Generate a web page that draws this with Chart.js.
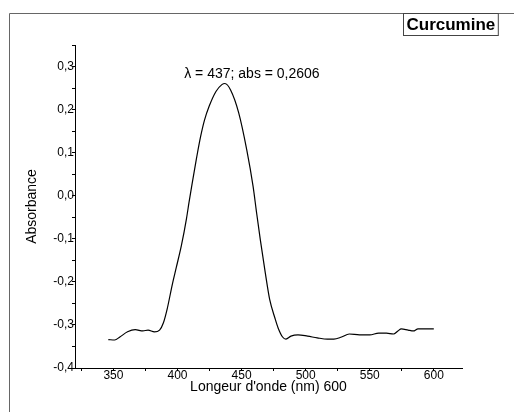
<!DOCTYPE html>
<html lang="fr">
<head>
<meta charset="utf-8">
<title>Curcumine</title>
<script src="https://cdn.jsdelivr.net/npm/chart.js@4.4.1/dist/chart.umd.min.js"></script>
<style>
    html, body { margin: 0; padding: 0; background: #fff; }
    #wrap { width: 514px; height: 412px; }
</style>
</head>
<body>
<div id="wrap"><canvas id="spectre" width="514" height="412"></canvas></div>
<script>
// Spectre UV-visible de la curcumine
const wavelengths = [
    346, 351, 355, 361, 367, 373, 377, 382, 386, 389, 392, 396, 399, 403, 407, 409,
    411.5, 415, 418, 421, 424.6, 430, 434.6, 437, 441.5, 447.7, 454, 459, 461.5, 464.6,
    468.5, 472, 476, 478.5, 482, 484.6, 488.5, 494, 501.5, 509, 517, 522, 528, 534,
    542, 550, 557, 563, 568.5, 572, 574.6, 580, 584, 587.7, 600
];
const absorbance = [
    -0.334, -0.335, -0.328, -0.316, -0.311, -0.314, -0.312, -0.316, -0.312, -0.295, -0.262, -0.205, -0.167, -0.116, -0.053, -0.015,
    0.030, 0.090, 0.137, 0.175, 0.207, 0.242, 0.258, 0.2606, 0.245, 0.193, 0.107, 0.021, -0.035, -0.102,
    -0.179, -0.242, -0.284, -0.307, -0.328, -0.333, -0.326, -0.323, -0.326, -0.330, -0.333, -0.333, -0.328, -0.321,
    -0.323, -0.323, -0.319, -0.319, -0.321, -0.314, -0.309, -0.312, -0.314, -0.309, -0.309
];

// Graduations
const xTicks = [350, 400, 450, 500, 550, 600];
const yTicks = [-0.4, -0.3, -0.2, -0.1, 0.0, 0.1, 0.2, 0.3];

// Maximum annoté
const peakWavelength = 437;
const peakAbsorbance = 0.2606;

const FONT = "'Liberation Sans', Arial, sans-serif";

/**
 * Graduations principales + intermédiaires (au milieu de chaque intervalle)
 */
function withMinor(major, min, max) {
    const step = major[1] - major[0];
    const out = [];
    const first = major[0] - step / 2;
    for (let v = first; v <= max + 1e-9; v += step / 2) {
        if (v >= min - 1e-9) out.push(+v.toFixed(4));
    }
    return out;
}

function isMajor(list, v) {
    return list.some(t => Math.abs(t - v) < 1e-6);
}

// Cadre gris, étiquette "Curcumine" et annotation du maximum
const framePlugin = {
    id: 'frame',
    beforeDraw(chart) {
        const ctx = chart.ctx;
        ctx.save();
        ctx.strokeStyle = '#666';
        ctx.lineWidth = 1;
        ctx.beginPath();
        ctx.moveTo(9.5, chart.height);
        ctx.lineTo(9.5, 13.5);
        ctx.lineTo(chart.width, 13.5);
        ctx.stroke();

        ctx.font = 'bold 17px ' + FONT;
        const w = ctx.measureText('Curcumine').width;
        const bx = 403.5, by = 13.5;
        ctx.fillStyle = '#fff';
        ctx.fillRect(bx, by, w + 6, 22);
        ctx.strokeStyle = '#444';
        ctx.strokeRect(bx, by, w + 6, 22);
        ctx.fillStyle = '#000';
        ctx.textBaseline = 'middle';
        ctx.textAlign = 'left';
        ctx.fillText('Curcumine', bx + 3, by + 12);
        ctx.restore();
    },
    afterDatasetsDraw(chart) {
        const ctx = chart.ctx;
        const px = chart.scales.x.getPixelForValue(peakWavelength);
        const py = chart.scales.y.getPixelForValue(peakAbsorbance);
        ctx.save();
        ctx.font = '14px ' + FONT;
        ctx.fillStyle = '#000';
        ctx.textAlign = 'center';
        ctx.textBaseline = 'bottom';
        const txt = 'λ = ' + peakWavelength + '; abs = ' + String(peakAbsorbance).replace('.', ',');
        ctx.fillText(txt, px + 27, py - 2);
        ctx.restore();
    }
};

const axisCommon = {
    grid: { display: true, drawOnChartArea: false, drawTicks: true, tickLength: 3, color: '#000', lineWidth: 1 },
    border: { display: true, color: '#000', width: 1 },
};

new Chart(document.getElementById('spectre'), {
    type: 'line',
    data: {
        datasets: [{
            data: wavelengths.map((w, i) => ({ x: w, y: absorbance[i] })),
            borderColor: '#000',
            borderWidth: 1.2,
            pointRadius: 0,
            cubicInterpolationMode: 'monotone',
            fill: false
        }]
    },
    options: {
        responsive: false,
        animation: false,
        layout: { padding: { left: 0, top: 45, right: 52, bottom: 0 } },
        plugins: { legend: { display: false }, tooltip: { enabled: false } },
        scales: {
            x: {
                type: 'linear',
                min: 320,
                max: 622,
                ...axisCommon,
                afterBuildTicks(scale) {
                    scale.ticks = withMinor(xTicks, 320, 622).map(v => ({ value: v }));
                },
                afterFit(scale) { scale.height = 44; },
                ticks: {
                    color: '#000',
                    padding: -3,
                    maxRotation: 0,
                    autoSkip: false,
                    font: { family: FONT, size: 12 },
                    callback: v => isMajor(xTicks, v) ? String(v) : ''
                },
                title: {
                    display: true,
                    text: "Longeur d'onde (nm) 600",
                    color: '#000',
                    font: { family: FONT, size: 14 },
                    padding: { top: 0, bottom: 16 }
                }
            },
            y: {
                type: 'linear',
                min: -0.4,
                max: 0.35,
                ...axisCommon,
                afterBuildTicks(scale) {
                    scale.ticks = withMinor(yTicks, -0.4, 0.35).map(v => ({ value: v }));
                },
                afterFit(scale) { scale.width = 75; },
                ticks: {
                    color: '#000',
                    padding: -2,
                    autoSkip: false,
                    font: { family: FONT, size: 12 },
                    callback: v => isMajor(yTicks, v) ? v.toFixed(1).replace('.', ',') : ''
                },
                title: {
                    display: true,
                    text: 'Absorbance',
                    color: '#000',
                    font: { family: FONT, size: 14 },
                    padding: { top: 24, bottom: 0 }
                }
            }
        }
    },
    plugins: [framePlugin]
});
</script>
</body>
</html>
